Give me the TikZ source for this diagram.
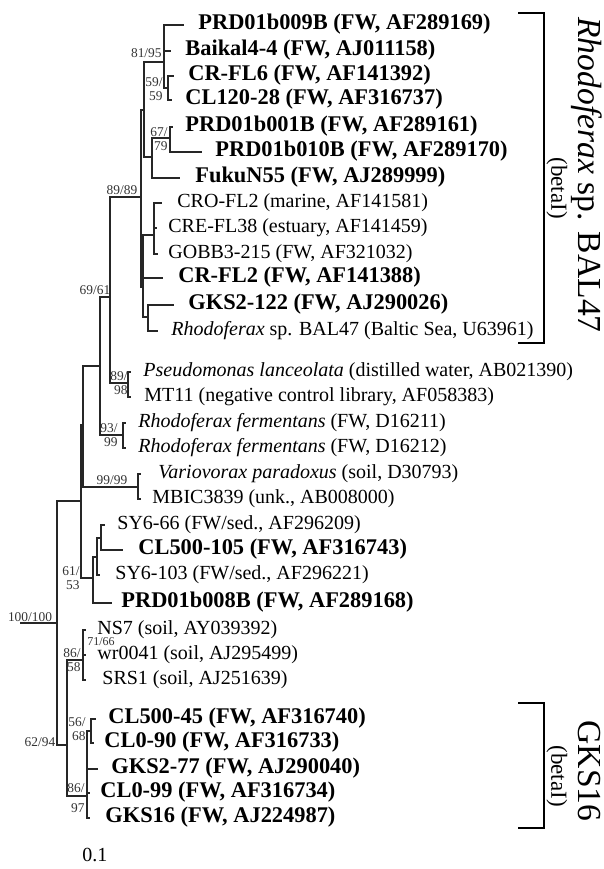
\documentclass[tikz,border=0pt]{standalone}
\usepackage{fontspec}
\setmainfont{Liberation Serif}
\usetikzlibrary{positioning}
\tikzset{
  br/.style={line width=0.6pt, black!85},
  clade/.style={line width=1.2pt},
  leaf/.style={anchor=base west, inner sep=0pt, font=\fontsize{10}{12}\selectfont},
  leafb/.style={leaf, font=\fontsize{11.2}{13}\selectfont\bfseries},
  bs/.style={inner sep=0pt, font=\fontsize{6.7}{7}\selectfont, align=right, text=black!80},
  ttl/.style={rotate=-90, anchor=base, inner sep=0pt, font=\fontsize{16.8}{19}\selectfont},
  sub/.style={rotate=-90, inner sep=0pt, font=\fontsize{11.5}{13}\selectfont},
}

\begin{document}
\begin{tikzpicture}[x=0.5pt, y=-0.5pt]
  \useasboundingbox (0,0) rectangle (604,869);

  % internal nodes
  \coordinate (root) at (20,623);
  \coordinate (e) at (57,623);
  \coordinate (d) at (81,501);
  \coordinate (c) at (83,425);
  \coordinate (a) at (100,366);
  \coordinate (b89) at (110,297);
  \coordinate (x) at (141,197);
  \coordinate (p1) at (144,110);
  \coordinate (n81) at (164,62);
  \coordinate (n59) at (168,88);
  \coordinate (m) at (152,157);
  \coordinate (n67) at (170,138);
  \coordinate (q) at (143,287);
  \coordinate (g) at (154,235);
  \coordinate (r) at (148,317);
  \coordinate (psm) at (128,383);
  \coordinate (rf) at (123,435);
  \coordinate (vm) at (138,487);
  \coordinate (s) at (93,578);
  \coordinate (s2) at (97,557);
  \coordinate (s3) at (101,538);
  \coordinate (f) at (67,745);
  \coordinate (ns) at (83,660);
  \coordinate (gk) at (87,796);
  \coordinate (n56) at (91,731);

  % leaves
  \coordinate (e1) at (184,25);   \node[leafb] (l1) at (198,29.5) {PRD01b009B (FW, AF289169)};
  \coordinate (e2) at (171,51);   \node[leafb] (l2) at (185,55.5) {Baikal4-4 (FW, AJ011158)};
  \coordinate (e3) at (174,76);   \node[leafb] (l3) at (188,80.5) {CR-FL6 (FW, AF141392)};
  \coordinate (e4) at (172,100);  \node[leafb] (l4) at (185,104.5) {CL120-28 (FW, AF316737)};
  \coordinate (e5) at (173,127);  \node[leafb] (l5) at (185,131.5) {PRD01b001B (FW, AF289161)};
  \coordinate (e6) at (202,152);  \node[leafb] (l6) at (215,156.5) {PRD01b010B (FW, AF289170)};
  \coordinate (e7) at (180,178);  \node[leafb] (l7) at (195,182.5) {FukuN55 (FW, AJ289999)};
  \coordinate (e8) at (162,203);  \node[leaf] (l8) at (177,207.5) {CRO-FL2 (marine, AF141581)};
  \coordinate (e9) at (157,228);  \node[leaf] (l9) at (168,232.5) {CRE-FL38 (estuary, AF141459)};
  \coordinate (e10) at (158,254); \node[leaf] (l10) at (168,258.5) {GOBB3-215 (FW, AF321032)};
  \coordinate (e11) at (163,278); \node[leafb] (l11) at (178,282.5) {CR-FL2 (FW, AF141388)};
  \coordinate (e12) at (174,305); \node[leafb] (l12) at (188,309.5) {GKS2-122 (FW, AJ290026)};
  \coordinate (e13) at (158,331); \node[leaf] (l13) at (171,335.5) {\textit{Rhodoferax} sp. BAL47 (Baltic Sea, U63961)};
  \coordinate (e14) at (131,372); \node[leaf] (l14) at (143,376.5) {\textit{Pseudomonas lanceolata} (distilled water, AB021390)};
  \coordinate (e15) at (131,397); \node[leaf] (l15) at (144,401.5) {MT11 (negative control library, AF058383)};
  \coordinate (e16) at (126,423); \node[leaf] (l16) at (138,427.5) {\textit{Rhodoferax fermentans} (FW, D16211)};
  \coordinate (e17) at (126,448); \node[leaf] (l17) at (138,452.5) {\textit{Rhodoferax fermentans} (FW, D16212)};
  \coordinate (e18) at (141,474); \node[leaf] (l18) at (158,478.5) {\textit{Variovorax paradoxus} (soil, D30793)};
  \coordinate (e19) at (141,499); \node[leaf] (l19) at (152,503.5) {MBIC3839 (unk., AB008000)};
  \coordinate (e20) at (105,525); \node[leaf] (l20) at (117,529.5) {SY6-66 (FW/sed., AF296209)};
  \coordinate (e21) at (123,550); \node[leafb] (l21) at (138,554.5) {CL500-105 (FW, AF316743)};
  \coordinate (e22) at (100,575); \node[leaf] (l22) at (115,579.5) {SY6-103 (FW/sed., AF296221)};
  \coordinate (e23) at (112,603); \node[leafb] (l23) at (121,607.5) {PRD01b008B (FW, AF289168)};
  \coordinate (e24) at (86,630);  \node[leaf] (l24) at (97,634.5) {NS7 (soil, AY039392)};
  \coordinate (e25) at (86,655);  \node[leaf] (l25) at (97,659.5) {wr0041 (soil, AJ295499)};
  \coordinate (e26) at (86,680);  \node[leaf] (l26) at (102,684.5) {SRS1 (soil, AJ251639)};
  \coordinate (e27) at (96,719);  \node[leafb] (l27) at (108,723.5) {CL500-45 (FW, AF316740)};
  \coordinate (e28) at (94,743);  \node[leafb] (l28) at (104,747.5) {CL0-90 (FW, AF316733)};
  \coordinate (e29) at (98,769);  \node[leafb] (l29) at (111,773.5) {GKS2-77 (FW, AJ290040)};
  \coordinate (e30) at (90,793);  \node[leafb] (l30) at (100,797.5) {CL0-99 (FW, AF316734)};
  \coordinate (e31) at (90,818);  \node[leafb] (l31) at (105,822.5) {GKS16 (FW, AJ224987)};

  % branches
  \draw[br] (root) -- (e);
  \draw[br] (e) |- (d);   \draw[br] (e) |- (f);
  \draw[br] (d) |- (c);   \draw[br] (d) |- (s);
  \draw[br] (c) |- (a);   \draw[br] (c) |- (vm);
  \draw[br] (a) |- (b89); \draw[br] (a) |- (rf);
  \draw[br] (b89) |- (x); \draw[br] (b89) |- (psm);
  \draw[br] (x) |- (p1);  \draw[br] (x) |- (q);
  \draw[br] (p1) |- (n81); \draw[br] (p1) |- (m);
  \draw[br] (n81) |- (e1); \draw[br] (n81) |- (e2); \draw[br] (n81) |- (n59);
  \draw[br] (n59) |- (e3); \draw[br] (n59) |- (e4);
  \draw[br] (m) |- (n67);  \draw[br] (m) |- (e7);
  \draw[br] (n67) |- (e5); \draw[br] (n67) |- (e6);
  \draw[br] (q) |- (g);    \draw[br] (q) |- (e11);  \draw[br] (q) |- (r);
  \draw[br] (g) |- (e8);   \draw[br] (g) |- (e9);   \draw[br] (g) |- (e10);
  \draw[br] (r) |- (e12);  \draw[br] (r) |- (e13);
  \draw[br] (psm) |- (e14); \draw[br] (psm) |- (e15);
  \draw[br] (rf) |- (e16); \draw[br] (rf) |- (e17);
  \draw[br] (vm) |- (e18); \draw[br] (vm) |- (e19);
  \draw[br] (s) |- (s2);   \draw[br] (s) |- (e23);
  \draw[br] (s2) |- (s3);  \draw[br] (s2) |- (e22);
  \draw[br] (s3) |- (e20); \draw[br] (s3) |- (e21);
  \draw[br] (f) |- (ns);   \draw[br] (f) |- (gk);
  \draw[br] (ns) |- (e24); \draw[br] (ns) |- (e25); \draw[br] (ns) |- (e26);
  \draw[br] (gk) |- (n56); \draw[br] (gk) |- (e29); \draw[br] (gk) |- (e30); \draw[br] (gk) |- (e31);
  \draw[br] (n56) |- (e27); \draw[br] (n56) |- (e28);

  % bootstrap values
  \node[bs, anchor=east] (bs1) at (162,53) {81/95};
  \node[bs, anchor=east] (bs2) at (163,89) {59/\\59};
  \node[bs, anchor=east] (bs3) at (168,139) {67/\\79};
  \node[bs] (bs4) at (122,190) {89/89};
  \node[bs] (bs5) at (95,290) {69/61};
  \node[bs, anchor=east] (bs6) at (128,383) {89/\\98};
  \node[bs, anchor=east] (bs7) at (118,435) {93/\\99};
  \node[bs] (bs8) at (112,480) {99/99};
  \node[bs, anchor=east] (bs9) at (80,578) {61/\\53};
  \node[bs] (bs10) at (30,617) {100/100};
  \node[bs, anchor=east] (bs11) at (81,660) {86/\\58};
  \node[bs, font=\fontsize{6}{7}\selectfont] (bs12) at (101,642) {71/66};
  \node[bs] (bs13) at (40,742) {62/94};
  \node[bs, anchor=east] (bs14) at (86,729) {56/\\68};
  \node[bs, anchor=east] (bs15) at (85,798) {86/\\[3pt]97};

  % clade brackets
  \coordinate (k1) at (518,13);  \coordinate (k2) at (518,343);
  \draw[clade] (k1) -- ++(26,0) |- (k2);
  \node[ttl] (t1) at (578,175) {\textit{Rhodoferax} sp. BAL47};
  \node[sub] (t1b) at (557,188) {(betaI)};
  \coordinate (k3) at (518,703); \coordinate (k4) at (518,828);
  \draw[clade] (k3) -- ++(26,0) |- (k4);
  \node[ttl] (t2) at (578,771) {GKS16};
  \node[sub] (t2b) at (557,776) {(betaI)};

  \node[leaf] (scale) at (82,861) {0.1};
\end{tikzpicture}
\end{document}
